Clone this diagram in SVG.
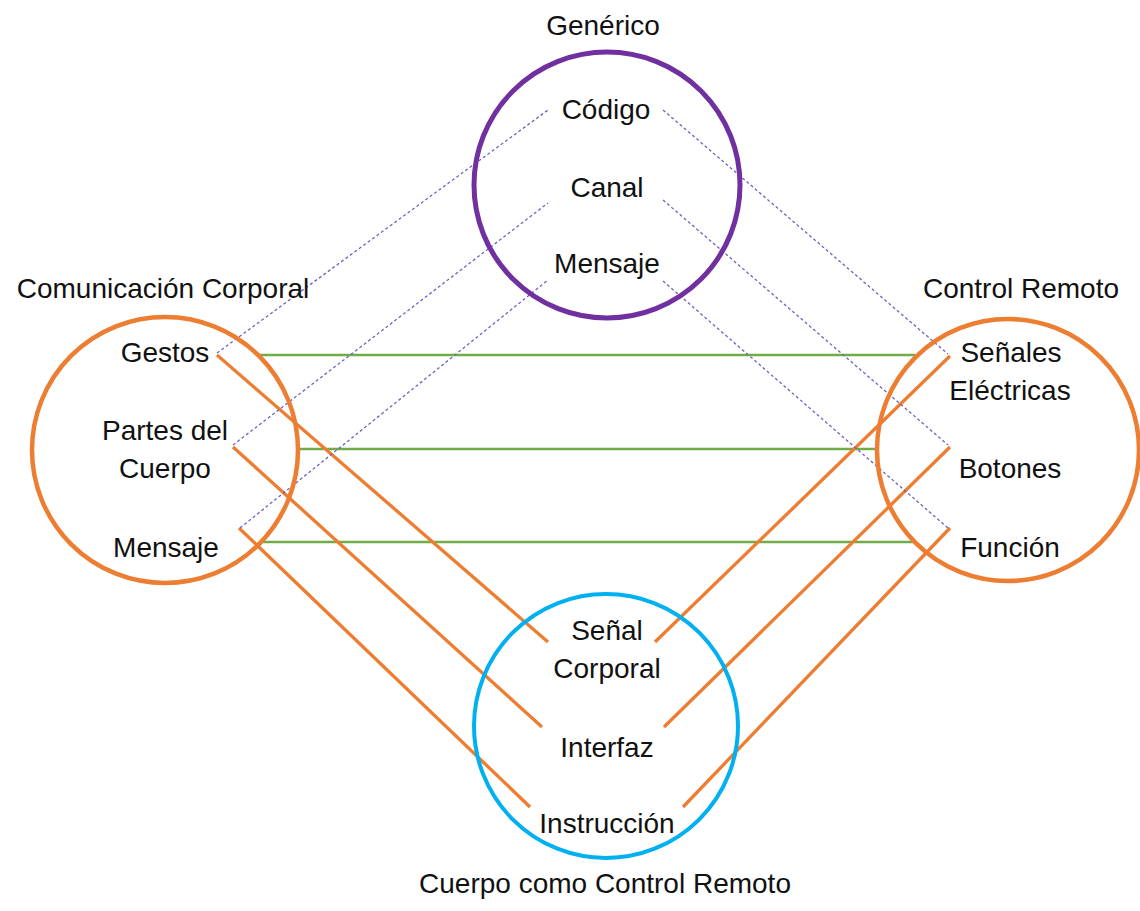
<svg xmlns="http://www.w3.org/2000/svg" width="1140" height="911" viewBox="0 0 1140 911">
<style>
text{font-family:"Liberation Sans",Arial,sans-serif;font-size:28px;fill:#111;text-anchor:middle}
.ring{fill:none}
.orange{stroke:#ED7D31;stroke-width:3.3}
.green{stroke:#70AD47;stroke-width:2.5}
.dash{stroke:#6E62C0;stroke-width:1.3;stroke-dasharray:3 2.5}
</style>
<rect width="1140" height="911" fill="#fff"/>
<g id="connectors" fill="none">
<line class="green" x1="258" y1="355" x2="915" y2="355"/>
<line class="green" x1="298" y1="449" x2="876" y2="449"/>
<line class="green" x1="260" y1="542" x2="913" y2="542"/>
<line class="orange" x1="217" y1="355" x2="548" y2="642"/>
<line class="orange" x1="233" y1="447" x2="542" y2="727"/>
<line class="orange" x1="239" y1="528" x2="530" y2="807"/>
<line class="orange" x1="950" y1="356" x2="655" y2="642"/>
<line class="orange" x1="950" y1="447" x2="664" y2="727"/>
<line class="orange" x1="950" y1="528" x2="683" y2="807"/>
<line class="dash" x1="217" y1="353" x2="548" y2="110"/>
<line class="dash" x1="233" y1="445" x2="548" y2="203"/>
<line class="dash" x1="240" y1="528" x2="548" y2="280"/>
<line class="dash" x1="663" y1="110" x2="948" y2="354"/>
<line class="dash" x1="663" y1="200" x2="948" y2="445"/>
<line class="dash" x1="663" y1="281" x2="948" y2="528"/>
</g>
<g id="generico">
<circle class="ring" cx="607" cy="185" r="133" stroke="#7030A0" stroke-width="5"/>
<text x="603" y="35">Genérico</text>
<text x="606" y="119">Código</text>
<text x="607" y="197">Canal</text>
<text x="607" y="273">Mensaje</text>
</g>
<g id="comunicacion">
<circle class="ring" cx="165" cy="450" r="133" stroke="#ED7D31" stroke-width="4.5"/>
<text x="163" y="298">Comunicación Corporal</text>
<text x="165" y="362">Gestos</text>
<text x="165" y="440">Partes del</text>
<text x="165" y="478">Cuerpo</text>
<text x="166" y="557">Mensaje</text>
</g>
<g id="control">
<circle class="ring" cx="1008" cy="450" r="131" stroke="#ED7D31" stroke-width="4.5"/>
<text x="1021" y="298">Control Remoto</text>
<text x="1011" y="362">Señales</text>
<text x="1010" y="400">Eléctricas</text>
<text x="1010" y="478">Botones</text>
<text x="1010" y="557">Función</text>
</g>
<g id="cuerpo">
<circle class="ring" cx="606" cy="726" r="132" stroke="#00B0F0" stroke-width="4"/>
<text x="607" y="640">Señal</text>
<text x="607" y="678">Corporal</text>
<text x="607" y="757">Interfaz</text>
<text x="607" y="833">Instrucción</text>
<text x="605" y="893">Cuerpo como Control Remoto</text>
</g>
</svg>
